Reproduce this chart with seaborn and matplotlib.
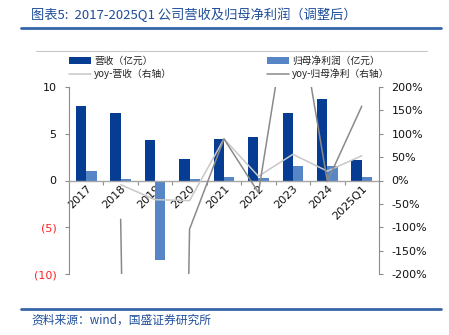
import numpy as np
import pandas as pd
import matplotlib
matplotlib.use("Agg")
import matplotlib.pyplot as plt
from matplotlib.lines import Line2D
from matplotlib.ticker import FixedLocator
import seaborn as sns

cats = ['2017', '2018', '2019', '2020', '2021', '2022', '2023', '2024', '2025Q1']
revenue = [8.0, 7.2, 4.3, 2.35, 4.45, 4.7, 7.25, 8.7, 2.2]
profit = [1.0, 0.2, -8.55, 0.2, 0.4, 0.3, 1.6, 1.55, 0.35]
rev_yoy = [np.nan, -9, -41, -43, 89, 9, 56, 20, 53]
profit_yoy = [np.nan, -83, -4375, -104, 89, -26, 433, -2, 159]

left_ticks = [10, 5, 0, -5, -10]
left_labels = ['10', '5', '0', '(5)', '(10)']
right_ticks = [200, 150, 100, 50, 0, -50, -100, -150, -200]
right_labels = ['200%', '150%', '100%', '50%', '0%', '-50%', '-100%', '-150%', '-200%']

s_rev = '营收（亿元）'
s_pro = '归母净利润（亿元）'
s_ryoy = 'yoy-营收（右轴）'
s_pyoy = 'yoy-归母净利（右轴）'

sns.set_theme(style='white')
plt.rcParams['font.family'] = ['DejaVu Sans', 'Noto Sans CJK SC']
CJK = ['Noto Sans CJK SC', 'DejaVu Sans']

df_bar = pd.DataFrame({
    'cat': cats * 2,
    'val': revenue + profit,
    'series': [s_rev] * len(cats) + [s_pro] * len(cats),
})
df_yoy = pd.DataFrame({'cat': cats, 'ryoy': rev_yoy, 'pyoy': profit_yoy})

c_rev = '#063C91'
c_pro = '#5686C6'
c_light = '#C8C8C8'
c_dark = '#8A8A8A'
c_axis = '#8C8C8C'
c_blue_txt = '#1F4E9A'

fig = plt.figure(figsize=(4.49, 3.35), dpi=100)
ax = fig.add_axes([69 / 449, 1 - 274 / 335, 310 / 449, 187 / 335])

sns.barplot(data=df_bar, x='cat', y='val', hue='series', order=cats,
            palette={s_rev: c_rev, s_pro: c_pro}, width=0.6, linewidth=0,
            ax=ax, saturation=1)
h_bar, l_bar = ax.get_legend_handles_labels()
if ax.get_legend() is not None:
    ax.get_legend().remove()

ax.set_ylim(-10, 10)
ax.set_xlim(-0.5, len(cats) - 0.5)
ax.set_yticks(left_ticks)
ax.set_yticklabels(left_labels)
for t, v in zip(ax.get_yticklabels(), left_ticks):
    t.set_color('#FF2020' if v < 0 else '#111111')
    t.set_fontsize(8)
ax.set_xlabel('')
ax.set_ylabel('')

ax.spines['top'].set_visible(False)
ax.spines['right'].set_visible(False)
ax.spines['left'].set_color(c_axis)
ax.spines['left'].set_linewidth(0.8)
ax.spines['bottom'].set_position(('data', 0))
ax.spines['bottom'].set_color('#A6A6A6')
ax.spines['bottom'].set_linewidth(1.0)
ax.tick_params(axis='y', which='major', left=True, length=3, width=0.8,
               color=c_axis, pad=6)
ax.tick_params(axis='x', which='major', length=0, pad=2)
ax.xaxis.set_minor_locator(FixedLocator(np.arange(0.5, len(cats) - 1, 1.0)))
ax.tick_params(axis='x', which='minor', bottom=True, length=3, width=0.8,
               color=c_axis, direction='out')
for t in ax.get_xticklabels():
    t.set_rotation(45)
    t.set_ha('right')
    t.set_va('top')
    t.set_rotation_mode('anchor')
    t.set_fontsize(8)
    t.set_color('#111111')
ax.grid(False)

ax2 = ax.twinx()
sns.lineplot(data=df_yoy, x='cat', y='ryoy', color=c_light, linewidth=1.1,
             ax=ax2, label=s_ryoy)
sns.lineplot(data=df_yoy, x='cat', y='pyoy', color=c_dark, linewidth=1.1,
             ax=ax2, label=s_pyoy)
h_line, l_line = ax2.get_legend_handles_labels()
if ax2.get_legend() is not None:
    ax2.get_legend().remove()
ax2.set_ylim(-200, 200)
ax2.set_xlim(-0.5, len(cats) - 0.5)
ax2.set_yticks(right_ticks)
ax2.set_yticklabels(right_labels, fontsize=8, color='#111111')
ax2.set_ylabel('')
ax2.set_xlabel('')
for s in ['top', 'left', 'bottom']:
    ax2.spines[s].set_visible(False)
ax2.spines['right'].set_color(c_axis)
ax2.spines['right'].set_linewidth(0.8)
ax2.tick_params(axis='y', right=True, length=3, width=0.8, color=c_axis, pad=6)
ax2.grid(False)

hd = dict(zip(l_bar + l_line, h_bar + h_line))
order = [s_rev, s_ryoy, s_pro, s_pyoy]
leg = fig.legend([hd[k] for k in order], order, ncol=2, loc='upper left',
                 bbox_to_anchor=(69 / 449, 1 - 56 / 335), frameon=False,
                 prop={'family': CJK, 'size': 7}, handlelength=2.3,
                 handletextpad=0.3, columnspacing=9.7, labelspacing=0.3,
                 borderpad=0, borderaxespad=0)
for t in leg.get_texts():
    t.set_color('#222222')

# decorative rules
fig.add_artist(Line2D([21 / 449, 441 / 449], [1 - 28 / 335, 1 - 28 / 335],
                      color='#3566A8', linewidth=2.0))
fig.add_artist(Line2D([36 / 449, 427 / 449], [1 - 51 / 335, 1 - 51 / 335],
                      color='#C8C8C8', linewidth=0.8))
fig.add_artist(Line2D([21 / 449, 441 / 449], [1 - 309 / 335, 1 - 309 / 335],
                      color='#3566A8', linewidth=2.0))

fig.text(31 / 449, 1 - 15 / 335, '图表5:  2017-2025Q1 公司营收及归母净利润（调整后）',
         family=CJK, fontsize=9.5, color=c_blue_txt, va='center', ha='left',
         style='italic')
fig.text(31 / 449, 1 - 320 / 335, '资料来源：wind，国盛证券研究所',
         family=CJK, fontsize=8.5, color=c_blue_txt, va='center', ha='left',
         style='italic')

fig.savefig('out.png', dpi=100)
